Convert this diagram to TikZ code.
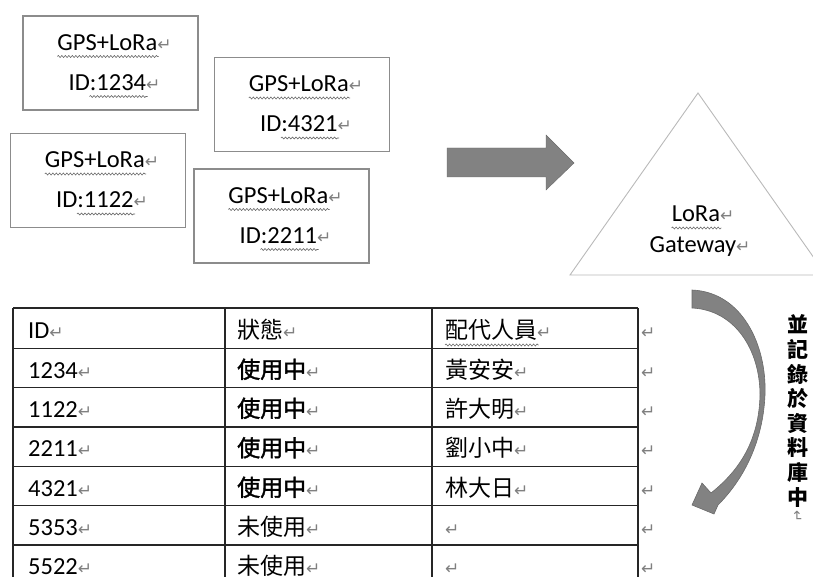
\documentclass[tikz,border=0pt]{standalone}
\usepackage{fontspec}
\setmainfont{Carlito}
\newfontfamily\cjk{Noto Sans CJK TC}
\newfontfamily\cjkbold[FakeBold=1.6]{Noto Sans CJK TC}
\newfontfamily\symfont{DejaVu Sans}
\usetikzlibrary{decorations.pathmorphing}
\definecolor{boxgray}{HTML}{8C8C8C}
\definecolor{arrowgray}{HTML}{828282}
\definecolor{arrowedge}{HTML}{6A6A6A}
\newcommand{\retmark}{{\color{gray}\symfont\fontsize{17}{17}\selectfont ↵}}
\newcommand{\busy}{{\cjkbold 使用中}}
\tikzset{
  tagbox/.style={draw=boxgray, line width=1.2pt, minimum width=175pt, minimum height=94pt, inner sep=0pt},
  txt/.style={inner sep=0pt, anchor=base, font=\fontsize{24.5}{24.5}\selectfont},
  celltxt/.style={inner sep=0pt, anchor=base west, font=\fontsize{24.5}{24.5}\selectfont},
  cjktxt/.style={celltxt, font=\cjk\fontsize{23}{23}\selectfont},
  squiggle/.style={draw=gray!80!black, line width=0.6pt, decorate, decoration={snake, amplitude=1pt, segment length=3.5pt}},
  grid line/.style={line width=1.3pt, draw=black!85}
}

\begin{document}
\begin{tikzpicture}[x=1pt,y=-1pt]
	\useasboundingbox (0,0) rectangle (813,577);
	\clip (0,0) rectangle (813,577);
	% the four tags
	\foreach \n/\cx/\cy/\id in {1/110.5/63/1234, 2/302/104.5/4321, 3/98/180.5/1122, 4/281.5/216/2211}{
		\node[tagbox] (tag\n) at (\cx,\cy) {};
		\node[txt] (gps\n) at ([xshift=4pt,yshift=12.5pt]tag\n.center) {GPS+LoRa\retmark};
		\node[txt] (id\n) at ([xshift=4pt,yshift=-27.5pt]tag\n.center) {ID:\id\retmark};
		\draw[squiggle] ([yshift=-6pt]gps\n.base west) -- ([xshift=-13pt,yshift=-6pt]gps\n.base east);
		\draw[squiggle] ([xshift=21pt,yshift=-6pt]id\n.base west) -- ([xshift=-13pt,yshift=-6pt]id\n.base east);
	}
	% block arrow
	\draw[fill=arrowgray, draw=arrowedge] (447,148) -- (546,148) -- (546,135) -- (574,163) -- (546,190) -- (546,177) -- (447,177) -- cycle;
	% gateway
	\draw[draw=gray!55, line width=0.9pt] (698,93) -- (826,275) -- (570,275) -- cycle;
	\node[txt] (lora) at (703,222) {LoRa\retmark};
	\node[txt] (gateway) at (700,252) {Gateway\retmark};
	\draw[squiggle] ([yshift=-6pt]lora.base west) -- ([xshift=-13pt,yshift=-6pt]lora.base east);
	% curved arrow
	\draw[fill=arrowgray, draw=arrowedge, line width=0.6pt] (692,290) .. controls (742,292) and (767,345) .. (765,395) .. controls (763,440) and (745,478) .. (718,505) -- (714,514) -- (692,505) -- (702,483) -- (711,493) .. controls (740,470) and (759,440) .. (760,395) .. controls (760,350) and (735,310) .. (692,308) -- cycle;
	\node[inner sep=0pt, align=center, font=\cjk\bfseries\fontsize{21}{24.6}\selectfont] (note) at (798,411) {並\\記\\錄\\於\\資\\料\\庫\\中};
	\node[inner sep=0pt, rotate=-90, text=gray, font=\symfont\fontsize{14}{14}\selectfont] (notemark) at (797,516) {↵};
	% table
	\foreach \y in {308,348.5,387.5,427,466.5,505.5,545}
		\draw[grid line] (13,\y) -- (638,\y);
	\foreach \x in {13,225,432,638}
		\draw[grid line] (\x,308) -- (\x,580);
	\foreach \yb/\id/\st/\who [count=\r] in {338/ID/狀態/配代人員, 378/1234/\busy/黃安安, 417/1122/\busy/許大明, 456.5/2211/\busy/劉小中, 496/4321/\busy/林大日, 535/5353/未使用/{}, 574.5/5522/未使用/{}}{
		\node[celltxt] (cid\r) at (28,\yb) {\id\retmark};
		\node[cjktxt] (cst\r) at (237,\yb) {\st\retmark};
		\node[cjktxt] (cwho\r) at (445,\yb) {\who\retmark};
		\node[celltxt] (cend\r) at (641,\yb) {\retmark};
	}
	\draw[squiggle] ([yshift=-7pt]cwho1.base west) -- ([xshift=-13pt,yshift=-7pt]cwho1.base east);
\end{tikzpicture}
\end{document}
